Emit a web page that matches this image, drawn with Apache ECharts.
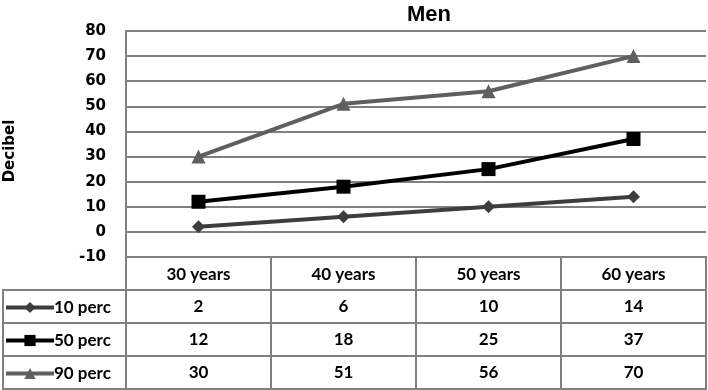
<!DOCTYPE html>
<html>
<head>
<meta charset="utf-8">
<script src="https://cdn.jsdelivr.net/npm/echarts@6/dist/echarts.min.js"></script>
<style>
html,body{margin:0;padding:0;background:#fff;}
#main{width:708px;height:390px;}
</style>
</head>
<body>
<div id="main"></div>
<script>
// 数据
var categories = ['30 years', '40 years', '50 years', '60 years'];
var seriesNames = ['10 perc', '50 perc', '90 perc'];
var perc10 = [2, 6, 10, 14];
var perc50 = [12, 18, 25, 37];
var perc90 = [30, 51, 56, 70];
var yTicks = [-10, 0, 10, 20, 30, 40, 50, 60, 70, 80];

var gridLeft = 126, gridRight = 2, gridTop = 31, gridBottom = 133;
var rowH = 33;
var lineColor = '#808080';
var tableFont = 'Lato';

var chart = echarts.init(document.getElementById('main'));

function makeSeries(name, data, symbol, size, color){
    return {
        name: name,
        type: 'line',
        data: data,
        symbol: symbol,
        symbolSize: size,
        showAllSymbol: true,
        animation: false,
        lineStyle: {width: 4, color: color},
        itemStyle: {color: color},
        z: 5
    };
}

var option = {
    animation: false,
    title: {
        text: 'Men',
        left: 424,
        textAlign: 'center',
        top: -1,
        textStyle: {fontFamily: 'Liberation Sans', fontWeight: 'bold', fontSize: 22, color: '#000'}
    },
    legend: {
        orient: 'vertical',
        left: 4,
        top: 299,
        height: 100,
        padding: 0,
        itemWidth: 48,
        itemHeight: 14,
        itemGap: 16,
        lineStyle: {width: 4},
        data: seriesNames,
        textStyle: {fontFamily: tableFont, fontWeight: 'bold', fontSize: 17, lineHeight: 14, color: '#000', padding: [0, 0, 0, -5]}
    },
    grid: {left: gridLeft, right: gridRight, top: gridTop, bottom: gridBottom, containLabel: false},
    xAxis: {
        type: 'category',
        data: categories,
        boundaryGap: true,
        axisLine: {show: false},
        axisTick: {show: false},
        axisLabel: {margin: 9, fontFamily: tableFont, fontWeight: 'bold', fontSize: 17, color: '#000'}
    },
    yAxis: {
        type: 'value',
        min: yTicks[0],
        max: yTicks[yTicks.length - 1],
        interval: 10,
        axisLine: {show: true, lineStyle: {color: lineColor, width: 2}},
        axisTick: {show: false},
        axisLabel: {margin: 20, fontFamily: 'DejaVu Sans', fontWeight: 'bold', fontSize: 15, color: '#000'},
        splitLine: {lineStyle: {color: lineColor, width: 2}}
    },
    series: [
        makeSeries(seriesNames[0], perc10, 'diamond', 13, '#3d3d3d'),
        makeSeries(seriesNames[1], perc50, 'rect', 14, '#000000'),
        makeSeries(seriesNames[2], perc90, 'triangle', 14, '#5f5f5f')
    ]
};
chart.setOption(option);

// 表格，每个单元格画一个框
function buildTable(){
    var els = [];
    var n = 0;
    var tableTop = 390 - gridBottom;
    var rows = [perc10, perc50, perc90];
    var half = (chart.convertToPixel({xAxisIndex: 0}, categories[1]) - chart.convertToPixel({xAxisIndex: 0}, categories[0])) / 2;
    function cell(x, y, w, h){
        n++;
        els.push({type: 'rect', id: 'c' + n, z: 10, silent: true,
            shape: {x: x, y: y, width: w, height: h},
            style: {fill: null, stroke: lineColor, lineWidth: 2}});
    }
    // 图例列
    for (var k = 0; k < rows.length; k++) {
        cell(3, tableTop + (k + 1) * rowH, gridLeft - 3, rowH);
    }
    for (var c = 0; c < categories.length; c++) {
        var cx = chart.convertToPixel({xAxisIndex: 0}, categories[c]);
        cell(cx - half, tableTop, half * 2, rowH);
        for (var k = 0; k < rows.length; k++) {
            var cy = tableTop + (k + 1) * rowH;
            cell(cx - half, cy, half * 2, rowH);
            n++;
            els.push({
                type: 'text',
                id: 't' + n,
                z: 11,
                x: cx,
                y: cy + rowH / 2,
                style: {text: String(rows[k][c]), align: 'center', verticalAlign: 'middle',
                    font: 'bold 17px ' + tableFont, fill: '#000'}
            });
        }
    }
    // y轴名称
    els.push({
        type: 'text',
        id: 'yname',
        x: 10,
        y: 151,
        rotation: Math.PI / 2,
        style: {text: 'Decibel', align: 'center', verticalAlign: 'middle',
            font: 'bold 15px DejaVu Sans', fill: '#000'}
    });
    chart.setOption({graphic: {elements: els}});
}
buildTable();
</script>
</body>
</html>
